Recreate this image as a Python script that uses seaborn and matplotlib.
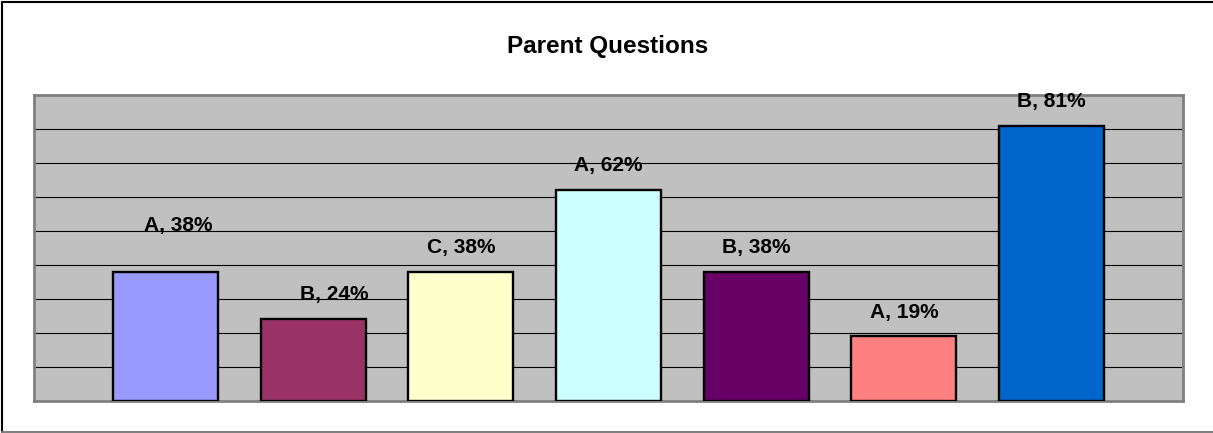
import numpy as np
import pandas as pd
import seaborn as sns
import matplotlib.pyplot as plt
from matplotlib.lines import Line2D

# data
questions = ['Q1', 'Q2', 'Q3', 'Q4', 'Q5', 'Q6', 'Q7']
answers   = ['A', 'B', 'C', 'A', 'B', 'A', 'B']
percent   = [38, 24, 38, 62, 38, 19, 81]
colors    = ['#9999FF', '#993366', '#FFFFCC', '#CCFFFF', '#660066', '#FF8080', '#0066CC']

df = pd.DataFrame({'question': questions, 'answer': answers, 'percent': percent})

sns.set_style('white')
plt.rcParams['font.family'] = ['Liberation Sans', 'DejaVu Sans']
plt.rcParams['text.color'] = 'black'

fig = plt.figure(figsize=(12.13, 4.33), dpi=100)
ax = fig.add_axes([34/1213, 1-401/433, (1183-34)/1213, (401-95)/433])

sns.barplot(data=df, x='question', y='percent', hue='question', palette=colors,
            legend=False, width=0.71, edgecolor='black', linewidth=1.7,
            saturation=1, ax=ax, zorder=3)

ax.set_facecolor('#C0C0C0')
ax.set_ylim(0, 90)
ax.set_xlim(-0.89, 6.89)
ax.set_yticks(np.arange(10, 90, 10))
ax.yaxis.grid(True, color='black', linewidth=0.8)
ax.set_axisbelow(True)
ax.tick_params(left=False, bottom=False, labelleft=False, labelbottom=False)
ax.set_xlabel('')
ax.set_ylabel('')
for sp in ax.spines.values():
    sp.set_visible(True)
    sp.set_color('#808080')
    sp.set_linewidth(2)

# data labels (the first two were nudged by hand in the original)
for i, (a, p) in enumerate(zip(answers, percent)):
    if i == 0:
        off = (9.5, 33)
    elif i == 1:
        off = (15, 18)
    else:
        off = (0, 17.5)
    ax.annotate('%s, %d%%' % (a, p), xy=(i, p), xytext=off,
                textcoords='offset points', ha='center', va='center',
                fontsize=15, fontweight='bold', color='black', zorder=4)

fig.text(608/1213, 1-46/433, 'Parent Questions', ha='center', va='center',
         fontsize=17.5, fontweight='bold', color='black')

# outer chart border
fig.add_artist(Line2D([2/1213, 2/1213], [1-2/433, 1-432/433], color='black', lw=1.5, transform=fig.transFigure))
fig.add_artist(Line2D([2/1213, 1], [1-2/433, 1-2/433], color='black', lw=1.5, transform=fig.transFigure))
fig.add_artist(Line2D([2/1213, 1], [1-432/433, 1-432/433], color='#808080', lw=1.5, transform=fig.transFigure))

fig.savefig('out.png', dpi=100)
